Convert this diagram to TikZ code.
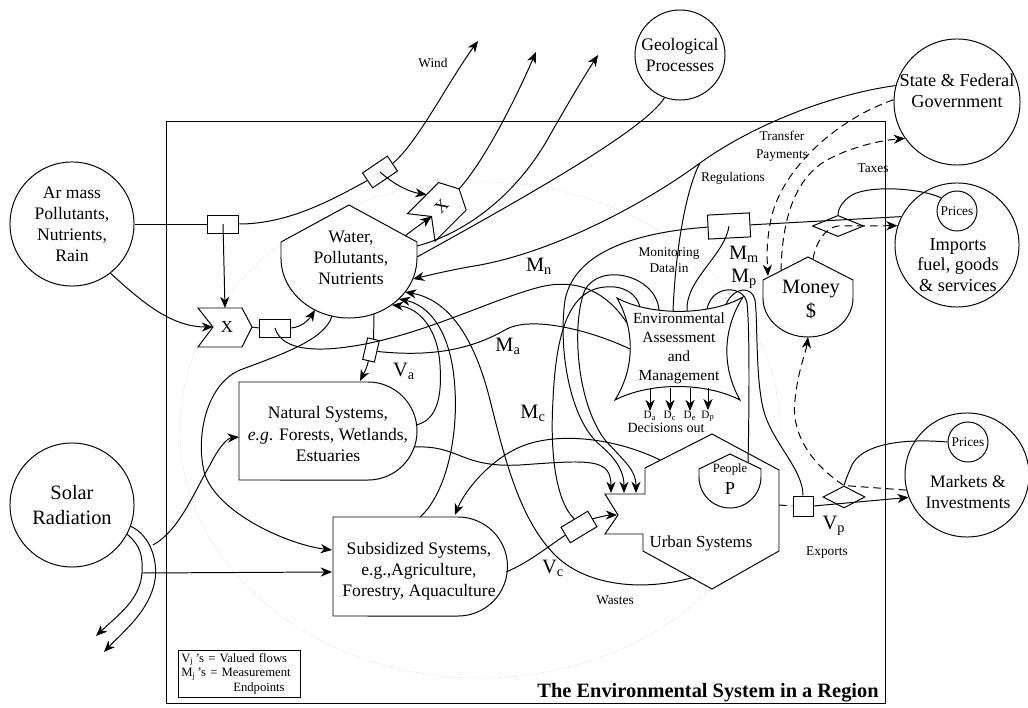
\documentclass[tikz,border=0pt]{standalone}
\usepackage{fontspec}
\setmainfont{Liberation Serif}
\usetikzlibrary{arrows.meta,shapes.geometric}

\tikzset{
  sink/.style={circle, draw, inner sep=0pt},
  meter/.style={draw, rectangle, inner sep=0pt},
  flow/.style={-{Stealth[length=8pt,width=6.5pt,inset=2.5pt]}},
  cash/.style={dash pattern=on 5.5pt off 3.5pt},
  lbl/.style={align=center, font=\fontsize{12.5}{15}\selectfont},
  note/.style={align=center, font=\fontsize{9.5}{12}\selectfont},
  msr/.style={font=\fontsize{14.5}{16}\selectfont, inner sep=0pt},
  xgate/.pic={
    \draw[fill=white] (-27,-19) -- (17,-19) -- (27,0) -- (17,20) -- (-27,20) -- (-12,0) -- cycle;
    \coordinate (-in) at (-12,0);
    \coordinate (-top) at (0,-19);
    \coordinate (-out) at (27,0);
    \node[font=\fontsize{12}{12}\selectfont] (-lab) at (2,0) {X};
  }
}

\begin{document}
\begin{tikzpicture}[x=0.025cm, y=-0.025cm, line width=0.7pt]
\useasboundingbox (0,0) rectangle (1028,708);

% region
\draw[gray!40, densely dotted, line width=0.4pt] (480,430) ellipse [x radius=7.5cm, y radius=6.2cm];
\draw (166,121) rectangle (885,703);

% outside sources
\node[sink, minimum size=3.1cm, lbl] (air) at (72,224) {Ar mass\\Pollutants,\\Nutrients,\\Rain};
\node[sink, minimum size=3.1cm, align=center, font=\fontsize{14.5}{18}\selectfont] (sun) at (72,505) {Solar\\Radiation};
\node[sink, minimum size=2.25cm, lbl] (geo) at (680,55) {Geological\\Processes};
\node[sink, minimum size=3.15cm] (gov) at (957,102) {};
\node[lbl, font=\fontsize{13}{15}\selectfont] (govtxt) at (957,91) {State \& Federal\\Government};
\node[sink, minimum size=3.1cm] (imp) at (957,245) {};
\node[sink, minimum size=1cm, note] (impprice) at (957,211) {Prices};
\node[lbl, font=\fontsize{13}{14.6}\selectfont] (imptxt) at (958,265) {Imports\\fuel, goods\\\& services};
\node[sink, minimum size=3.1cm] (mkt) at (967,475) {};
\node[sink, minimum size=1cm, note] (mktprice) at (968,442) {Prices};
\node[lbl] (mkttxt) at (968,492) {Markets \&\\Investments};

% water storage
\draw[fill=white] (281,258) -- (281,242) -- (349,205) -- (417,242) -- (417,258)
  arc[start angle=0, end angle=-180, x radius=1.7cm, y radius=1.5cm] -- cycle;
\node[lbl] (water) at (351,258) {Water,\\Pollutants,\\Nutrients};

% natural and subsidized systems
\draw[fill=white] (239,382) -- (368,382) arc[start angle=90, end angle=-90, radius=1.225cm] -- (239,480) -- cycle;
\node[lbl] (natural) at (328,434) {Natural Systems,\\\emph{e.g}. Forests, Wetlands,\\Estuaries};
\draw[fill=white] (333,517) -- (458,517) arc[start angle=90, end angle=-90, radius=1.2375cm] -- (333,616) -- cycle;
\node[lbl] (subsid) at (419,571) {Subsidized Systems,\\e.g.,Agriculture,\\Forestry, Aquaculture};

% assessment and management
\draw[fill=white] (617,298) .. controls (650,316) and (710,316) .. (743,297)
  .. controls (722,330) and (722,368) .. (740,400)
  .. controls (705,382) and (650,382) .. (615,400)
  .. controls (635,368) and (635,330) .. cycle;
\node[align=center, font=\fontsize{11}{13.5}\selectfont] (env) at (679,348) {Environmental\\Assessment\\and\\Management};

% urban systems
\draw[fill=white] (712,434) -- (779,470) -- (779,551) -- (712,589) -- (643,551) -- (643,534)
  -- (605,534) -- (618,515) -- (605,494) -- (645,494) -- (645,468) -- cycle;
\node[font=\fontsize{12}{14}\selectfont] (urban) at (701,543) {Urban Systems};
\draw[fill=white] (699,477) -- (699,469) -- (730,454) -- (761,469) -- (761,477)
  arc[start angle=0, end angle=-180, radius=0.775cm] -- cycle;
\node[font=\fontsize{9}{10}\selectfont, inner sep=0pt] (people) at (730,469) {People};
\node[font=\fontsize{13}{14}\selectfont, inner sep=0pt] (pp) at (730,489) {P};

% money
\draw[fill=white] (763,298) -- (763,280) -- (808,257) -- (853,280) -- (853,298)
  arc[start angle=0, end angle=-180, x radius=1.125cm, y radius=0.975cm] -- cycle;
\node[align=center, font=\fontsize{14.5}{17}\selectfont] (money) at (811,300) {Money\\\$};

% interactions, meters, price switches
\pic (lx) at (225,327) {xgate};
\begin{scope}[shift={(440,208)}, rotate=45, transform shape]
  \pic (ux) at (0,0) {xgate};
\end{scope}
\node[meter, minimum width=0.78cm, minimum height=0.45cm] (m1) at (223,224) {};
\node[meter, minimum width=0.75cm, minimum height=0.45cm, rotate=34] (mw) at (380,172) {};
\node[meter, minimum width=0.78cm, minimum height=0.45cm] (m2) at (275,328) {};
\node[meter, minimum width=0.3cm, minimum height=0.55cm, rotate=-13] (ma) at (371,350) {};
\node[meter, minimum width=1.05cm, minimum height=0.6cm, rotate=3] (mm) at (729,226) {};
\node[meter, minimum width=0.78cm, minimum height=0.45cm, rotate=31] (mc) at (579,527) {};
\node[meter, minimum width=0.5cm, minimum height=0.5cm] (vp) at (803,506) {};
\node[draw, diamond, aspect=2.4, minimum width=1.28cm, minimum height=0.53cm, inner sep=0pt] (idia) at (838,226) {};
\node[draw, diamond, aspect=1.9, minimum width=1.05cm, minimum height=0.55cm, inner sep=0pt] (mdia) at (844,497) {};

% attachment points
\coordinate (w20) at (413,279);
\coordinate (w35) at (405,292);
\coordinate (w43) at (399,299);
\coordinate (w51) at (392,305);
\coordinate (w68) at (374,314);
\coordinate (w104) at (332,316);
\coordinate (w120) at (315,310);
\coordinate (wtr) at (405,236);
\coordinate (wup) at (417,246);
\coordinate (wgeo) at (417,257);
\coordinate (wind) at (478,41);
\coordinate (up2) at (536,52);
\coordinate (up3) at (598,55);
\coordinate (reg) at (700,163);
\coordinate (enreg) at (673,311);
\coordinate (enmm) at (687,311);
\coordinate (enmp) at (707,309);
\coordinate (envp) at (726,304);
\coordinate (enmc) at (640,307);
\coordinate (enout) at (659,310);
\coordinate (enmn) at (627,323);
\coordinate (enma) at (630,349);
\coordinate (ntop) at (360,381);
\coordinate (nr1) at (416,425);
\coordinate (nr2) at (414,447);
\coordinate (nl) at (239,437);
\coordinate (stop) at (420,517);
\coordinate (sarr) at (455,515);
\coordinate (sl1) at (332,550);
\coordinate (sl2) at (332,572);
\coordinate (sr) at (506,572);
\coordinate (ua1) at (611,493);
\coordinate (ua2) at (624,493);
\coordinate (ua3) at (636,493);
\coordinate (un) at (617,515);
\coordinate (uw) at (691,578);
\coordinate (uul) at (660,460);
\coordinate (ur) at (779,505);
\coordinate (ptop) at (748,463);
\coordinate (mtop) at (813,259);
\coordinate (mtax) at (781,271);
\coordinate (mtl) at (768,276);
\coordinate (mbot) at (808,337);
\coordinate (sj) at (142,573);
\coordinate (sj2) at (153,545);
\coordinate (sink1) at (104,652);
\coordinate (sink2) at (96,636);

% air, wind and the two interactions
\draw (air.east) -- (m1.west);
\draw (m1.east) .. controls (290,224) and (335,198) .. (mw.west);
\draw[flow] (mw.east) .. controls (418,142) and (448,82) .. (wind);
\draw[flow] (m1.center) -- (lx-top);
\draw[flow] (air.-52) .. controls (140,300) and (170,327) .. (lx-in);
\draw (lx-out) -- (m2.west);
\draw[flow] (m2.east) .. controls (303,327) and (310,318) .. (w120);
\draw[flow] (mw.center) .. controls (396,186) and (410,192) .. (ux-top);
\draw[flow] (wtr) .. controls (415,228) and (424,222) .. (ux-in);
\draw[flow] (ux-out) .. controls (485,160) and (515,100) .. (up2);
\draw[flow] (wup) .. controls (470,232) and (520,190) .. (550,135) .. controls (570,100) and (585,75) .. (up3);
\draw (geo.250) .. controls (645,130) and (520,200) .. (wgeo);

% government
\draw[flow] (gov.165) .. controls (840,93) and (760,120) .. (reg)
  .. controls (650,200) and (560,250) .. (480,265) .. controls (450,270) and (430,275) .. (w20);
\draw (reg) .. controls (688,185) and (676,240) .. (enreg);

% water to the systems
\draw (w68) -- (ma.north);
\draw[flow] (ma.south) .. controls (367,368) and (363,375) .. (ntop);
\draw[flow] (w104) .. controls (325,340) and (280,355) .. (240,370)
  .. controls (205,385) and (195,440) .. (205,475) .. controls (220,515) and (290,545) .. (sl1);

% returns to water
\draw[flow] (nr1) .. controls (438,420) and (442,395) .. (440,365) .. controls (438,330) and (420,308) .. (w51);
\draw[flow] (stop) .. controls (445,495) and (458,440) .. (455,390) .. controls (452,330) and (428,305) .. (w43);
\draw[flow] (uw) .. controls (640,592) and (585,585) .. (555,555) .. controls (520,520) and (505,460) .. (490,400)
  .. controls (475,340) and (450,300) .. (w35);

% measurements
\draw (m2.center) .. controls (282,352) and (320,352) .. (360,345) .. controls (430,332) and (490,300) .. (540,287)
  .. controls (585,276) and (612,300) .. (enmn);
\draw (ma.east) .. controls (430,357) and (470,350) .. (505,330) .. controls (530,315) and (590,330) .. (enma);
\draw (mc.north) .. controls (555,500) and (550,450) .. (553,400) .. controls (556,330) and (570,290) .. (605,287)
  .. controls (625,285) and (637,295) .. (enmc);
\draw (mm.center) .. controls (725,255) and (685,280) .. (enmm);
\draw (ptop) .. controls (749,420) and (750,330) .. (747,303) .. controls (744,285) and (712,284) .. (enmp);
\draw (vp.north) .. controls (803,470) and (775,445) .. (765,415) .. controls (755,385) and (758,320) .. (755,300)
  .. controls (752,286) and (735,286) .. (envp);

% into urban systems
\draw[flow] (nr2) .. controls (460,445) and (460,468) .. (520,465) .. controls (590,460) and (611,458) .. (ua1);
\draw (imp.153) -- (mm.east);
\draw[flow] (mm.west) .. controls (640,232) and (575,250) .. (565,300) .. controls (558,350) and (570,420) .. (600,445)
  .. controls (620,462) and (624,475) .. (ua2);
\draw[flow] (enout) .. controls (656,275) and (600,262) .. (585,290) .. controls (572,320) and (575,400) .. (605,440)
  .. controls (625,462) and (636,470) .. (ua3);
\draw (sr) .. controls (530,562) and (550,545) .. (mc.west);
\draw[flow] (mc.east) .. controls (600,517) and (608,515) .. (un);
\draw[flow] (uul) .. controls (620,440) and (560,430) .. (520,447) .. controls (490,460) and (465,490) .. (sarr);

% exports and markets
\draw[cash] (ur) -- (vp.west);
\draw[flow] (vp.east) -- (mkt.201);
\draw (mktprice.west) .. controls (900,438) and (862,445) .. (852,465) .. controls (847,476) and (845,482) .. (mdia.north);
\draw[cash, flow] (mkt.194) -- (mdia.north) .. controls (820,470) and (790,440) .. (795,400)
  .. controls (798,370) and (806,352) .. (mbot);

% imports, taxes, transfers
\draw (impprice.140) .. controls (920,188) and (870,185) .. (852,195) .. controls (841,202) and (838,210) .. (idia.north);
\draw[cash, flow] (mtop) .. controls (816,242) and (825,228) .. (idia.center) -- (imp.162);
\draw[cash, flow] (mtax) .. controls (782,225) and (792,180) .. (827,160) .. controls (855,145) and (885,140) .. (gov.215);
\draw[cash, flow] (gov.178) .. controls (840,118) and (785,165) .. (772,215) .. controls (766,240) and (767,258) .. (mtl);

% solar energy
\draw[flow] (sun.-20) .. controls (150,535) and (158,560) .. (155,580) .. controls (150,610) and (125,630) .. (sink1);
\draw[flow] (sun.-28) .. controls (140,545) and (143,555) .. (sj) .. controls (140,600) and (118,615) .. (sink2);
\draw[flow] (sj) -- (sl2);
\draw[flow] (sj2) .. controls (180,530) and (195,490) .. (210,465) .. controls (220,445) and (228,438) .. (nl);

% decisions
\foreach \x/\dn in {650/a,670/c,690/e,708/p}{
  \coordinate (dd\dn) at (\x,388);
  \node[inner sep=0pt, font=\fontsize{8}{9}\selectfont] (dl\dn) at (\x,416) {D\textsubscript{\dn}};
  \draw[flow] (dd\dn) -- (dl\dn.north);
}
\node[inner sep=0pt, font=\fontsize{10}{11}\selectfont] (decide) at (666,428) {Decisions out};

% labels
\node[note] (windlbl) at (433,63) {Wind};
\node[note, font=\fontsize{9.5}{12.5}\selectfont] (transfer) at (782,146) {Transfer\\Payments};
\node[note] (regs) at (733,178) {Regulations};
\node[note] (taxes) at (873,168) {Taxes};
\node[note, font=\fontsize{9.5}{11.5}\selectfont] (monitor) at (669,260) {Monitoring\\Data in};
\node[note] (wastes) at (615,600) {Wastes};
\node[note] (exports) at (827,553) {Exports};
\node[msr] (lmn) at (539,266) {M\textsubscript{n}};
\node[msr] (lma) at (508,346) {M\textsubscript{a}};
\node[msr] (lmc) at (533,413) {M\textsubscript{c}};
\node[msr] (lmm) at (744,254) {M\textsubscript{m}};
\node[msr] (lmp) at (744,279) {M\textsubscript{p}};
\node[msr] (lva) at (404,371) {V\textsubscript{a}};
\node[msr] (lvc) at (553,568) {V\textsubscript{c}};
\node[msr] (lvp) at (834,526) {V\textsubscript{p}};

% legend and title
\node[draw, anchor=north west, align=left, text width=2.9cm, inner sep=2pt, font=\fontsize{9}{10.5}\selectfont] (legend) at (178,650)
  {V\textsubscript{j}\,'s = Valued flows\\M\textsubscript{j}\,'s = Measurement\\\hspace*{37pt}Endpoints};
\node[anchor=base west, inner sep=0pt, font=\bfseries\fontsize{14.5}{16}\selectfont] (title) at (537,697) {The Environmental System in a Region};
\end{tikzpicture}
\end{document}
